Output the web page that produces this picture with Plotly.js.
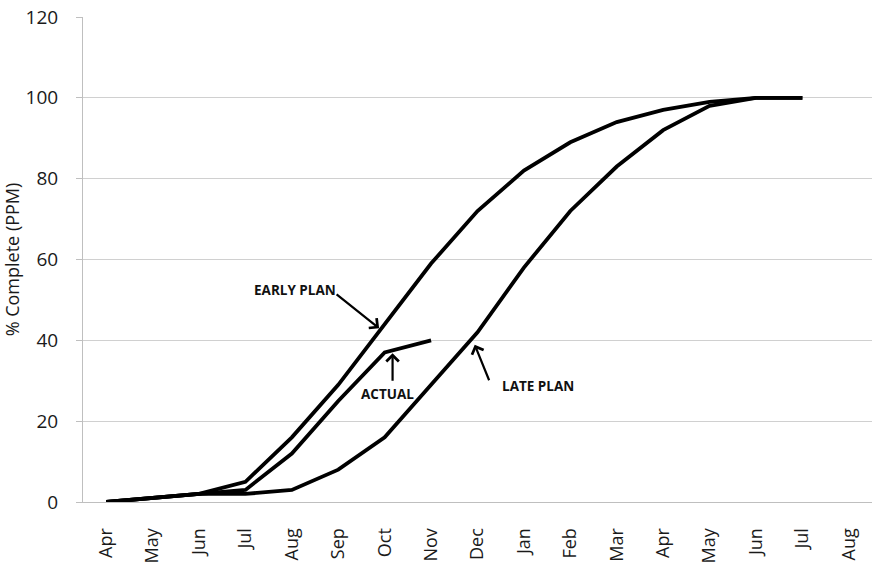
<!DOCTYPE html>
<html>
<head>
<meta charset="utf-8">
<script src="https://cdn.plot.ly/plotly-3.0.1.min.js"></script>
<style>
  html, body { margin: 0; padding: 0; background: #fff; }
  #chart { width: 873px; height: 563px; }
</style>
</head>
<body>
<div id="chart"></div>
<script>
// Month labels along the schedule (Apr of year 1 through Aug of year 2)
const months = ["Apr", "May", "Jun", "Jul", "Aug", "Sep", "Oct", "Nov", "Dec",
                "Jan", "Feb", "Mar", "Apr", "May", "Jun", "Jul", "Aug"];

// Cumulative % complete per month
const earlyPlan = [0, 1, 2, 5, 16, 29, 44, 59, 72, 82, 89, 94, 97, 99, 100, 100];
const latePlan  = [0, 1, 2, 2, 3, 8, 16, 29, 42, 58, 72, 83, 92, 98, 100, 100];
const actual    = [0, 1, 2, 3, 12, 25, 37, 40];

const idx = arr => arr.map((_, i) => i);

const lineStyle = { color: "#000000", width: 3.8 };

const traces = [
  { x: idx(earlyPlan), y: earlyPlan, name: "Early Plan", mode: "lines", line: lineStyle },
  { x: idx(latePlan),  y: latePlan,  name: "Late Plan",  mode: "lines", line: lineStyle },
  { x: idx(actual),    y: actual,    name: "Actual",     mode: "lines", line: lineStyle }
];

const labelFont = { family: "Open Sans, Arial, sans-serif", size: 13.5, color: "#111" };

// Arrow-only callouts (empty text), then the callout labels
function arrow(x, y, ax, ay) {
  return {
    x: x, y: y, xref: "x", yref: "y", ax: ax, ay: ay, axref: "pixel", ayref: "pixel",
    text: "", showarrow: true, arrowhead: 4, arrowsize: 1.1, arrowwidth: 2.2, arrowcolor: "#000"
  };
}
function label(x, y, text) {
  return { x: x, y: y, xref: "x", yref: "y", text: "<b>" + text + "</b>", showarrow: false, font: labelFont };
}

const annotations = [
  arrow(5.88, 43, -44, -35),
  arrow(6.17, 36.8, 0, 29),
  arrow(7.94, 38.9, 15, 37),
  label(4.07, 52.5, "EARLY PLAN"),
  label(6.05, 26.6, "ACTUAL"),
  label(9.3, 28.7, "LATE PLAN")
];

const layout = {
  width: 873,
  height: 563,
  margin: { l: 83, r: 1, t: 17, b: 61 },
  paper_bgcolor: "#ffffff",
  plot_bgcolor: "#ffffff",
  showlegend: false,
  font: { family: "Open Sans, Arial, sans-serif", size: 17, color: "#1a1a1a" },
  xaxis: {
    range: [-0.5, 16.5],
    tickmode: "array",
    tickvals: idx(months),
    ticktext: months,
    tickangle: -90,
    showgrid: false,
    zeroline: false,
    showline: true,
    linecolor: "#bfbfbf",
    linewidth: 1,
    ticks: "",
    ticklabelstandoff: 18,
    tickfont: { size: 18 }
  },
  yaxis: {
    range: [0, 120],
    tickvals: [0, 20, 40, 60, 80, 100, 120],
    showgrid: true,
    gridcolor: "#d0d0d0",
    gridwidth: 1,
    zeroline: false,
    showline: true,
    linecolor: "#bfbfbf",
    linewidth: 1,
    ticks: "outside",
    ticklen: 6,
    tickcolor: "#bfbfbf",
    ticklabelstandoff: 14,
    tickfont: { size: 19 },
    title: { text: "% Complete (PPM)", font: { size: 18 }, standoff: 4 }
  },
  annotations: annotations
};

Plotly.newPlot("chart", traces, layout, { staticPlot: true, displayModeBar: false });
</script>
</body>
</html>
